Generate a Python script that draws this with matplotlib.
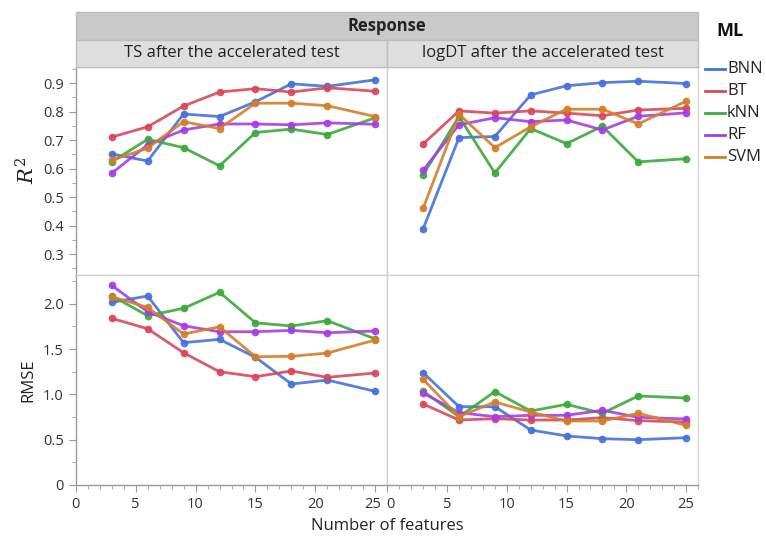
import matplotlib
matplotlib.use('Agg')
import matplotlib.pyplot as plt
from matplotlib.patches import Rectangle
from matplotlib.transforms import ScaledTranslation
from matplotlib.ticker import MultipleLocator, FixedLocator, FuncFormatter

plt.rcParams['font.family'] = ['Open Sans', 'DejaVu Sans']

features = [3, 6, 9, 12, 15, 18, 21, 25]
models = ['BNN', 'BT', 'kNN', 'RF', 'SVM']
colors = ['#4472db', '#d9485a', '#3aaa3a', '#a63de6', '#d57d28']
responses = ['TS after the accelerated test', 'logDT after the accelerated test']

# R2, TS after the accelerated test
r2_ts = {
    'BNN': [0.652, 0.627, 0.792, 0.783, 0.835, 0.898, 0.889, 0.912],
    'BT':  [0.711, 0.747, 0.820, 0.869, 0.881, 0.869, 0.884, 0.872],
    'kNN': [0.624, 0.703, 0.674, 0.610, 0.727, 0.739, 0.720, 0.779],
    'RF':  [0.584, 0.684, 0.736, 0.757, 0.757, 0.754, 0.761, 0.756],
    'SVM': [0.630, 0.672, 0.765, 0.741, 0.830, 0.830, 0.821, 0.783],
}
# R2, logDT after the accelerated test
r2_dt = {
    'BNN': [0.389, 0.709, 0.713, 0.859, 0.891, 0.902, 0.907, 0.899],
    'BT':  [0.687, 0.803, 0.795, 0.803, 0.795, 0.786, 0.806, 0.812],
    'kNN': [0.579, 0.783, 0.585, 0.741, 0.688, 0.749, 0.624, 0.635],
    'RF':  [0.595, 0.754, 0.779, 0.765, 0.771, 0.736, 0.784, 0.796],
    'SVM': [0.461, 0.791, 0.674, 0.747, 0.809, 0.809, 0.757, 0.837],
}
# RMSE, TS after the accelerated test
rmse_ts = {
    'BNN': [2.015, 2.085, 1.570, 1.607, 1.409, 1.114, 1.158, 1.033],
    'BT':  [1.839, 1.724, 1.459, 1.250, 1.195, 1.258, 1.188, 1.236],
    'kNN': [2.088, 1.868, 1.949, 2.126, 1.790, 1.754, 1.813, 1.611],
    'RF':  [2.203, 1.912, 1.757, 1.691, 1.691, 1.706, 1.680, 1.699],
    'SVM': [2.077, 1.960, 1.666, 1.746, 1.415, 1.420, 1.456, 1.600],
}
# RMSE, logDT after the accelerated test
rmse_dt = {
    'BNN': [1.239, 0.864, 0.864, 0.607, 0.541, 0.511, 0.500, 0.522],
    'BT':  [0.894, 0.717, 0.732, 0.717, 0.717, 0.743, 0.710, 0.695],
    'kNN': [1.034, 0.754, 1.030, 0.816, 0.890, 0.791, 0.982, 0.960],
    'RF':  [1.015, 0.798, 0.754, 0.769, 0.769, 0.824, 0.747, 0.728],
    'SVM': [1.166, 0.754, 0.916, 0.805, 0.706, 0.706, 0.791, 0.659],
}

W, H = 766, 540
fig = plt.figure(figsize=(W / 100, H / 100), dpi=100)


def fx(px):
    return px / W


def fy(py):
    return 1 - py / H


x_left = [75.7, 387.3]
x_right = [387.3, 698.0]
y_rows = [(66.7, 275.0), (275.0, 485.0)]

data = [[r2_ts, r2_dt], [rmse_ts, rmse_dt]]
border = '#d4d4d4'
axis_col = '#9a9a9a'

for r, (ytop, ybot) in enumerate(y_rows):
    for c in range(2):
        x0, x1 = [x_left, x_right][c]
        ax = fig.add_axes([fx(x0), fy(ybot), fx(x1 - x0), (ybot - ytop) / H])
        for m, col in zip(models, colors):
            ax.plot(features, data[r][c][m], color=col, lw=2, marker='o',
                    ms=4.5, mec=col, mfc=col, alpha=0.9, zorder=3)
        ax.set_xlim(0, 26)
        if r == 0:
            ax.set_ylim(0.227, 0.958)
            ax.yaxis.set_major_locator(FixedLocator([0.3, 0.4, 0.5, 0.6, 0.7, 0.8, 0.9]))
            ax.yaxis.set_minor_locator(MultipleLocator(0.05))
            ax.yaxis.set_major_formatter(FuncFormatter(lambda v, p: '%.1f' % v))
        else:
            ax.set_ylim(0, 2.317)
            ax.yaxis.set_major_locator(FixedLocator([0, 0.5, 1.0, 1.5, 2.0]))
            ax.yaxis.set_minor_locator(MultipleLocator(0.25))
            ax.yaxis.set_major_formatter(
                FuncFormatter(lambda v, p: '0' if v == 0 else '%.1f' % v))
        ax.xaxis.set_major_locator(FixedLocator([0, 5, 10, 15, 20, 25]))
        ax.xaxis.set_minor_locator(MultipleLocator(1))
        for s in ax.spines.values():
            s.set_color(border)
            s.set_linewidth(1)
        ax.tick_params(which='both', color=axis_col, labelcolor='#333333',
                       labelsize=10.5, direction='out')
        ax.tick_params(which='major', length=5)
        ax.tick_params(which='minor', length=3)
        if c == 0:
            ax.spines['left'].set_color(axis_col)
        else:
            ax.tick_params(axis='y', which='both', left=False, labelleft=False)
        if r == 1:
            ax.spines['bottom'].set_color(axis_col)
            # nudge "25" and "0" apart where the two panels meet
            ticks = ax.xaxis.get_major_ticks()
            lab = ticks[-1].label1 if c == 0 else ticks[0].label1
            dx = -3 if c == 0 else 3
            lab.set_transform(lab.get_transform() +
                              ScaledTranslation(dx / 100, 0, fig.dpi_scale_trans))
        else:
            ax.tick_params(axis='x', which='both', bottom=False, labelbottom=False)

# header bands
fig.patches.append(Rectangle((fx(75.7), fy(40)), fx(698 - 75.7), 27.7 / H,
                             transform=fig.transFigure, facecolor='#c9c9c9',
                             edgecolor='#bdbdbd', lw=1, zorder=0))
fig.text(fx((75.7 + 698) / 2), fy(26), 'Response', ha='center', va='center',
         fontsize=12, fontweight='bold', color='#222222')
for c, name in enumerate(responses):
    x0, x1 = [x_left, x_right][c]
    fig.patches.append(Rectangle((fx(x0), fy(66.7)), fx(x1 - x0), 26.7 / H,
                                 transform=fig.transFigure, facecolor='#dedede',
                                 edgecolor='#bdbdbd', lw=1, zorder=0))
    fig.text(fx((x0 + x1) / 2), fy(53), name, ha='center', va='center',
             fontsize=12, color='#222222')

# axis titles
fig.text(fx(28), fy(170), '$R^2$', rotation=90, ha='center', va='center',
         fontsize=15, color='#222222', math_fontfamily='dejavuserif')
fig.text(fx(28), fy(380), 'RMSE', rotation=90, ha='center', va='center',
         fontsize=12, color='#222222')
fig.text(fx(387), fy(526), 'Number of features', ha='center', va='center',
         fontsize=12, color='#222222')

# legend
fig.text(fx(716), fy(31), 'ML', ha='left', va='center', fontsize=13,
         fontweight='bold', color='#111111')
for i, (m, col) in enumerate(zip(models, colors)):
    yy = fy(69 + i * 22)
    fig.add_artist(plt.Line2D([fx(705), fx(725)], [yy, yy], color=col, lw=2,
                              transform=fig.transFigure))
    fig.text(fx(727), yy, m, ha='left', va='center', fontsize=12,
             color='#222222')

fig.savefig('out.png', dpi=100)
